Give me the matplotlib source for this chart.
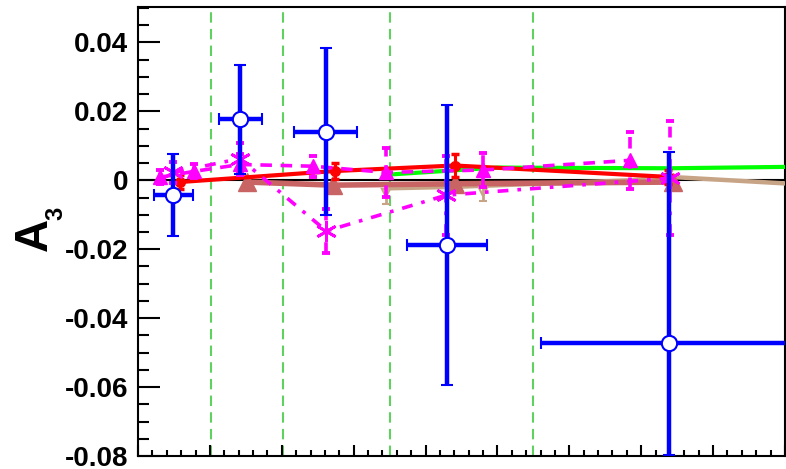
import matplotlib.pyplot as plt
from matplotlib.ticker import MultipleLocator

plt.rcParams['font.family'] = ['Liberation Sans', 'DejaVu Sans']

# bin boundaries (green dashed lines)
bin_edges = [1.01, 2.02, 3.51, 5.50]

# measured points (blue open circles)
data_x = [0.49, 1.42, 2.61, 4.30, 7.39]
data_xerr = [0.27, 0.30, 0.44, 0.56, 1.78]
data_y = [-0.0043, 0.0177, 0.0140, -0.0188, -0.0473]
data_yerr_lo = [0.0118, 0.0158, 0.0241, 0.0406, 0.0325]
data_yerr_hi = [0.0118, 0.0159, 0.0243, 0.0407, 0.0555]

# red circles, solid line
red_x = [0.58, 2.74, 4.41, 7.37]
red_y = [-0.0005, 0.0027, 0.0043, 0.0010]
red_err = [0.0020, 0.0022, 0.0034, 0.0020]

# salmon triangles, solid line
sal_x = [1.52, 2.71, 4.41, 7.44]
sal_y = [-0.0005, -0.0014, -0.0010, -0.0005]

# green curve
grn_x = [3.51, 5.00, 7.40, 9.00]
grn_y = [0.0017, 0.0037, 0.0035, 0.0039]

# tan curve and its points
tan_x = [3.51, 4.40, 6.85, 7.40, 9.00]
tan_y = [-0.0023, -0.0019, 0.0000, 0.0010, -0.0009]
tanp_x = [3.45, 4.80]
tanp_y = [-0.0038, -0.0034]
tanp_err = [0.0030, 0.0025]

# magenta triangles, dashed
mtri_x = [0.31, 0.78, 1.42, 2.43, 3.45, 4.80, 6.84]
mtri_y = [0.0009, 0.0026, 0.0046, 0.0041, 0.0023, 0.0030, 0.0058]
mtri_err = [0.0020, 0.0020, 0.0030, 0.0030, 0.0070, 0.0050, 0.0082]

# magenta asterisks, dash-dot
mast_x = [0.49, 1.42, 2.62, 4.29, 7.40]
mast_y = [0.0023, 0.0063, -0.0147, -0.0043, 0.0006]
mast_err = [0.0030, 0.0045, 0.0065, 0.0115, 0.0165]

ytick_vals = [-0.08, -0.06, -0.04, -0.02, 0, 0.02, 0.04]
ytick_labels = ['-0.08', '-0.06', '-0.04', '-0.02', '0', '0.02', '0.04']

fig = plt.figure(figsize=(7.86, 4.69), dpi=100)
ax = fig.add_axes([138 / 786, 13 / 469, 647 / 786, 449 / 469])

for xe in bin_edges:
    ax.axvline(xe, color='#5ed15e', lw=1.5, ls=(0, (5, 3)), zorder=1)
ax.axhline(0, color='black', lw=1.5, zorder=2)

ax.plot(tan_x, tan_y, color='#c8a486', lw=3.2, zorder=3)
e = ax.errorbar(tanp_x, tanp_y, yerr=tanp_err, fmt='v', color='#c8a486', ms=6,
                mfc='none', mew=1.5, elinewidth=2, capsize=3, capthick=2, zorder=3)

ax.plot(grn_x, grn_y, color='#00ff00', lw=3, zorder=4)

ax.plot(sal_x, sal_y, color='#c86464', lw=4, marker='^', ms=13, zorder=5)

ax.errorbar(red_x, red_y, yerr=red_err, fmt='o-', color='#ff0000', ms=7, lw=3,
            elinewidth=2.2, capsize=3, capthick=2.5, zorder=6)

dash = (0, (3.2, 2.4))
e = ax.errorbar(mtri_x, mtri_y, yerr=mtri_err, fmt='^', color='#ff00ff', ms=10,
                elinewidth=2.6, capsize=3, capthick=2.8, zorder=7)
e[2][0].set_linestyle(dash)
ax.plot(mtri_x, mtri_y, color='#ff00ff', lw=2.6, ls=dash, zorder=7)

dashdot = (0, (3, 2.5, 1, 2.5))
e = ax.errorbar(mast_x, mast_y, yerr=mast_err, fmt='none', ecolor='#ff00ff',
                elinewidth=2.6, capsize=3, capthick=2.8, zorder=7)
e[2][0].set_linestyle(dashdot)
ax.plot(mast_x, mast_y, color='#ff00ff', lw=2.6, ls=dashdot, marker=(6, 2, 0),
        ms=15, mew=2, zorder=7)

ax.errorbar(data_x, data_y, xerr=data_xerr, yerr=[data_yerr_lo, data_yerr_hi],
            fmt='o', color='#0000ff', mfc='white', mec='#0000ff', ms=11, mew=1.5,
            elinewidth=3.2, capsize=4, capthick=3.5, zorder=8)

ax.set_xlim(0, 9)
ax.set_ylim(-0.08, 0.0503)
ax.xaxis.set_major_locator(MultipleLocator(1))
ax.xaxis.set_minor_locator(MultipleLocator(0.2))
ax.set_yticks(ytick_vals, labels=ytick_labels)
ax.yaxis.set_minor_locator(MultipleLocator(0.005))

ax.tick_params(axis='both', which='both', direction='in', width=1.5,
               top=False, right=False, labelbottom=False)
ax.tick_params(axis='y', which='major', length=15.6, pad=7,
               labelsize=20)
ax.tick_params(axis='y', which='minor', length=7.7)
ax.tick_params(axis='x', which='major', length=7.9)
ax.tick_params(axis='x', which='minor', length=4)
for lab in ax.get_yticklabels():
    lab.set_fontweight('bold')
for sp in ax.spines.values():
    sp.set_linewidth(1.5)

fig.text(35 / 786, 1 - 234 / 469, 'A', rotation=90, ha='center', va='center',
         fontsize=33, fontweight='bold')
fig.text(56 / 786, 1 - 213 / 469, '3', rotation=90, ha='center', va='center',
         fontsize=17, fontweight='bold')

fig.savefig('out.png', dpi=100)
